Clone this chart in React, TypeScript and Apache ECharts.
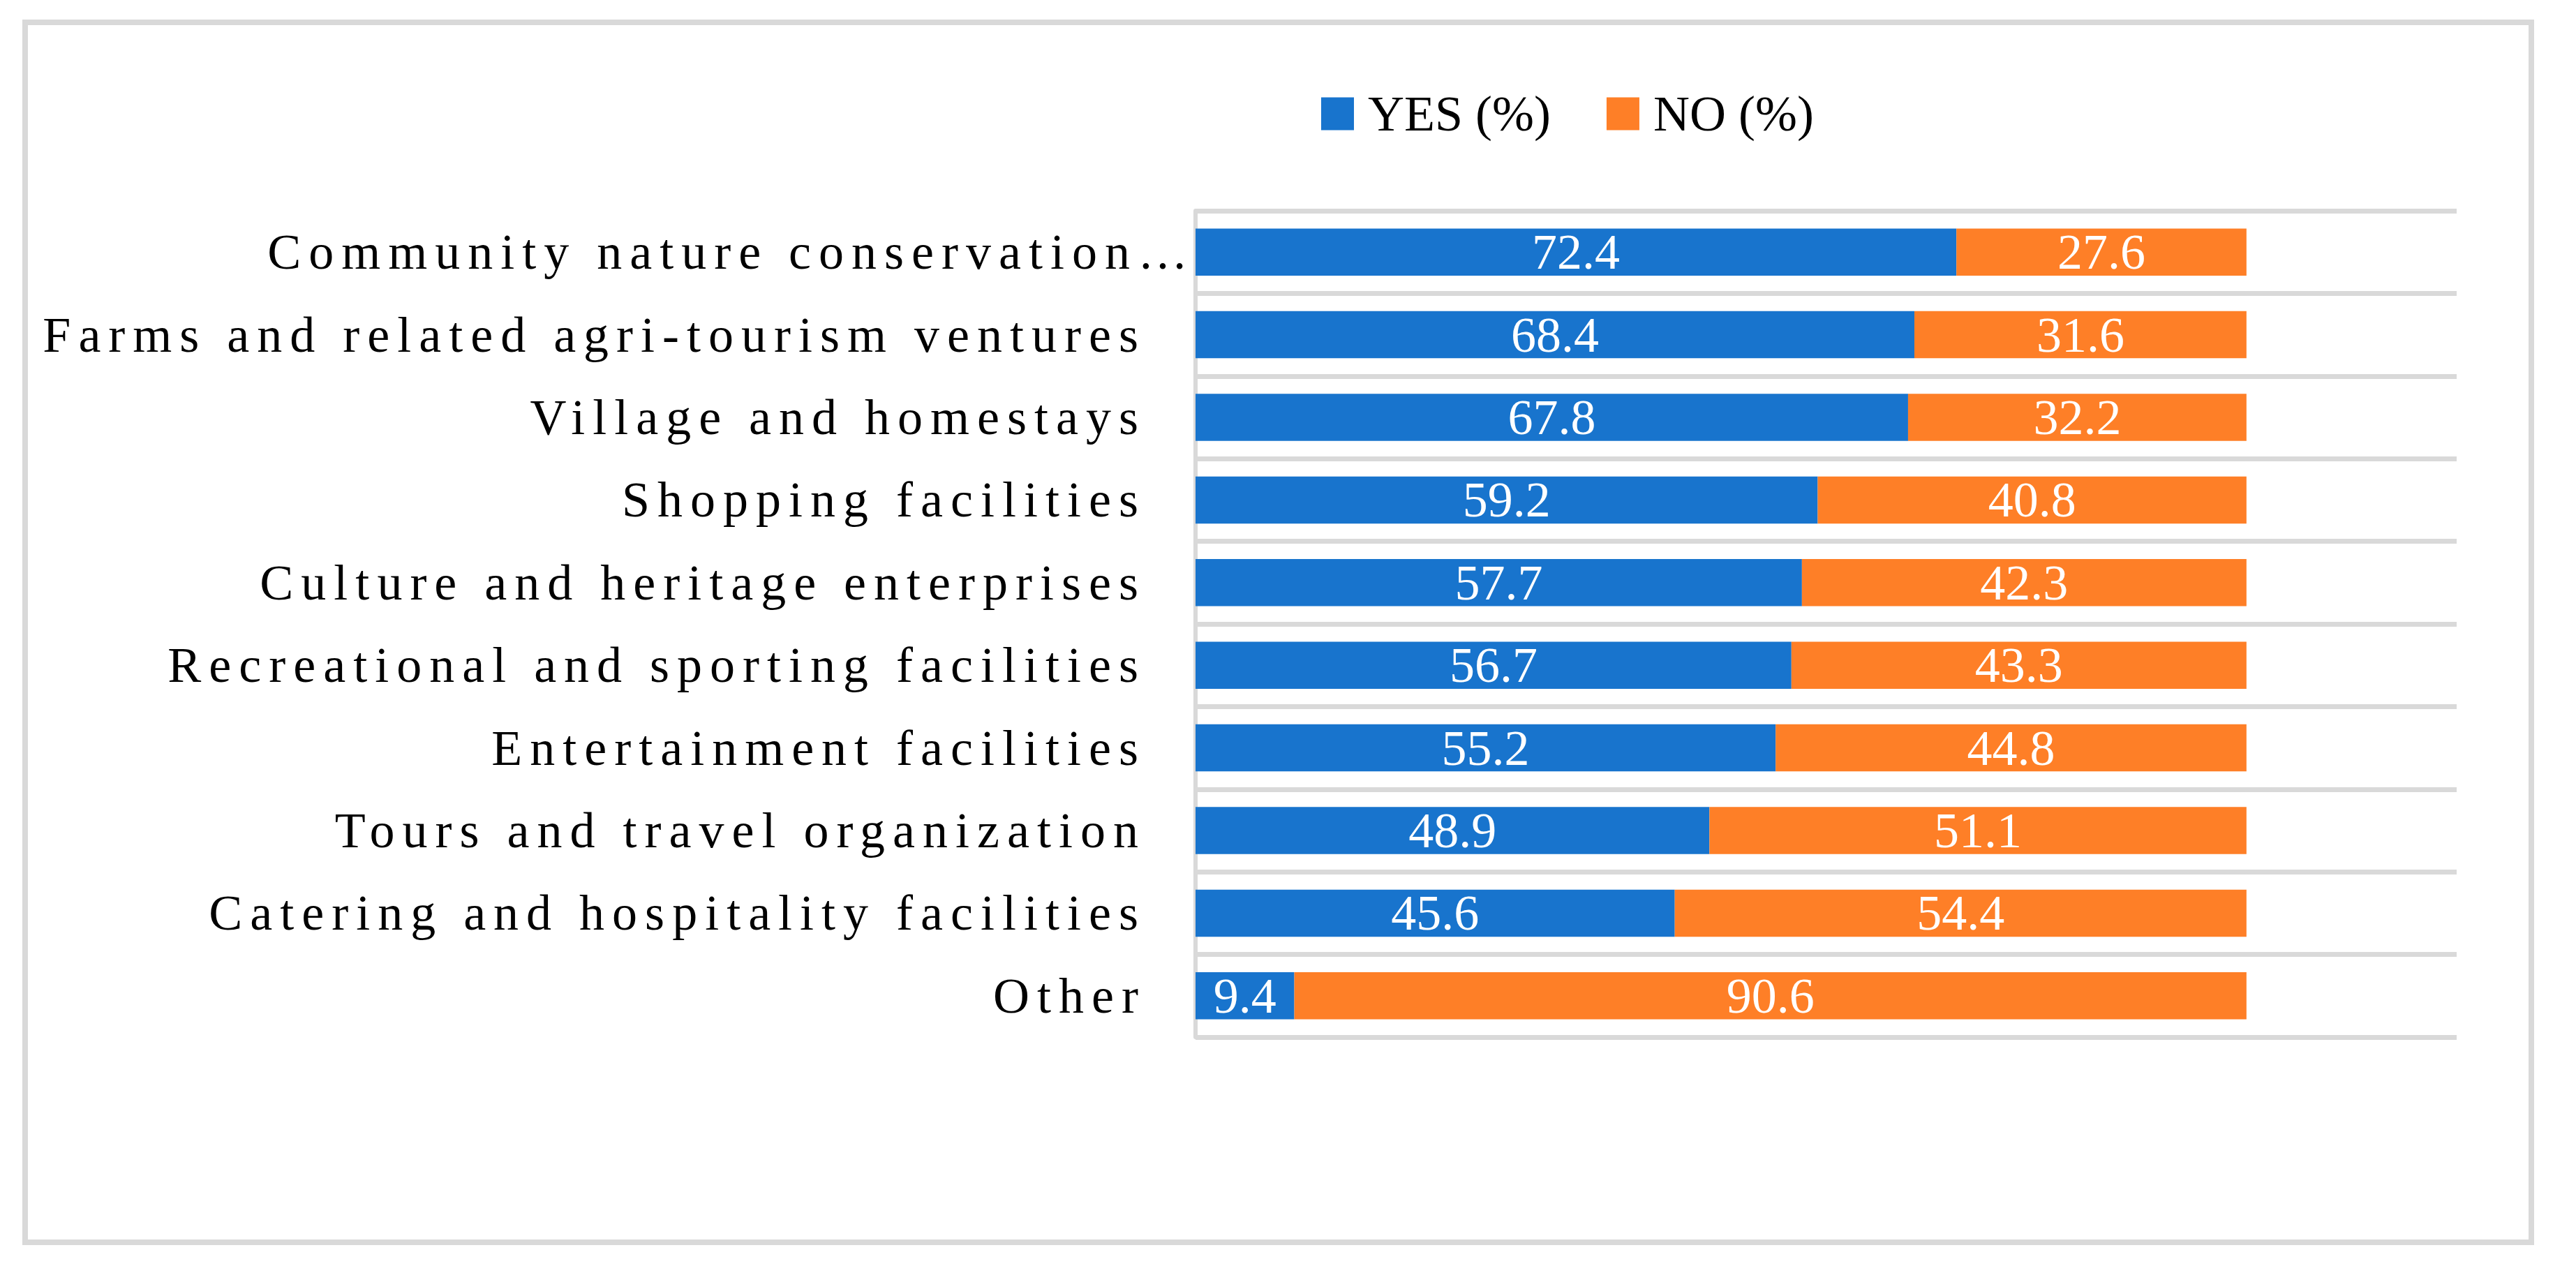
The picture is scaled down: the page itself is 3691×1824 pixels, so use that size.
import React, { useEffect, useRef } from "react";
import * as echarts from "echarts";

const categories = [
  "Community nature conservation…",
  "Farms and related agri-tourism ventures",
  "Village and homestays",
  "Shopping facilities",
  "Culture and heritage enterprises",
  "Recreational and sporting facilities",
  "Entertainment facilities",
  "Tours and travel organization",
  "Catering and hospitality facilities",
  "Other",
];
const yesValues = [72.4, 68.4, 67.8, 59.2, 57.7, 56.7, 55.2, 48.9, 45.6, 9.4];
const noValues = [27.6, 31.6, 32.2, 40.8, 42.3, 43.3, 44.8, 51.1, 54.4, 90.6];
const seriesNames = ["YES (%)", "NO (%)"];

const FONT = "'Liberation Serif', 'Times New Roman', serif";
const BLUE = "#1874CD";
const ORANGE = "#FE7F27";
const GRID_GREY = "#D9D9D9";

export default function App() {
  const ref = useRef<HTMLDivElement>(null);

  useEffect(() => {
    document.body.style.margin = "0";
    const el = ref.current!;
    const chart = echarts.init(el, undefined, { renderer: "svg" });

    const labelStyle = {
      show: true,
      position: "inside",
      color: "#FFFFFF",
      fontFamily: FONT,
      fontSize: 72,
      formatter: (p: any) => Number(p.value).toFixed(1),
    };

    chart.setOption({
      animation: false,
      backgroundColor: "#FFFFFF",
      graphic: [
        {
          type: "rect",
          shape: { x: 36, y: 32, width: 3591, height: 1748 },
          style: { fill: "transparent", stroke: GRID_GREY, lineWidth: 8 },
          z: -10,
          silent: true,
        },
      ],
      legend: {
        data: seriesNames,
        left: 1893,
        top: 127,
        padding: 0,
        itemWidth: 47,
        itemHeight: 47,
        itemGap: 80,
        icon: "rect",
        textStyle: {
          fontFamily: FONT,
          fontSize: 72,
          color: "#000000",
          padding: [0, 0, 0, 15],
        },
      },
      grid: { left: 1713, top: 302, width: 1807, height: 1184 },
      xAxis: {
        type: "value",
        min: 0,
        max: 120,
        show: false,
        splitLine: { show: false },
      },
      yAxis: {
        type: "category",
        inverse: true,
        data: categories.map((c, i) =>
          i === 0 ? { value: c, textStyle: { padding: [0, 0, 8, 0] } } : c
        ),
        axisLine: { show: true, lineStyle: { color: GRID_GREY, width: 6 } },
        axisTick: { show: false },
        splitLine: { show: true, lineStyle: { color: GRID_GREY, width: 7 } },
        axisLabel: {
          margin: 0,
          padding: [0, 71, 8, 0],
          color: "#000000",
          fontFamily: FONT,
          fontSize: 72,
        },
      },
      series: [
        {
          name: seriesNames[0],
          type: "bar",
          stack: "total",
          barWidth: "57%",
          itemStyle: { color: BLUE },
          label: labelStyle,
          data: yesValues,
        },
        {
          name: seriesNames[1],
          type: "bar",
          stack: "total",
          barWidth: "57%",
          itemStyle: { color: ORANGE },
          label: labelStyle,
          data: noValues,
        },
      ],
    });

    const applySpacing = () => {
      el.querySelectorAll("text").forEach((t) => {
        const s = (t.textContent || "").trim();
        if (categories.includes(s)) {
          t.setAttribute("letter-spacing", "11");
        }
      });
    };
    applySpacing();
    chart.on("rendered", applySpacing);
    chart.on("finished", applySpacing);
    const timer = setTimeout(applySpacing, 50);

    return () => {
      clearTimeout(timer);
      chart.dispose();
    };
  }, []);

  return <div ref={ref} style={{ width: 3691, height: 1824 }} />;
}
